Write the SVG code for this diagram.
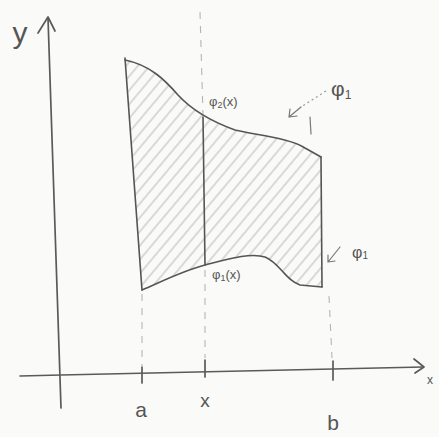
<svg xmlns="http://www.w3.org/2000/svg" width="439" height="437" viewBox="0 0 439 437">
<style>
.ln{fill:none;stroke:#555;stroke-width:1.6;stroke-linecap:round;stroke-linejoin:round}
.ax{fill:none;stroke:#5a5a5a;stroke-width:1.7;stroke-linecap:round;stroke-linejoin:round}
.dash{fill:none;stroke:#b5b5b5;stroke-width:1.1;stroke-dasharray:7 7}
.thin{fill:none;stroke:#777;stroke-width:1.2;stroke-linecap:round}
.dot{fill:none;stroke:#999;stroke-width:1.2;stroke-dasharray:2 3}
text{font-family:"Liberation Sans","DejaVu Sans",sans-serif;fill:#555}
</style>
<defs>
<pattern id="hatch" width="9" height="9" patternUnits="userSpaceOnUse" patternTransform="rotate(40)">
<line x1="4" y1="0" x2="4" y2="9" stroke="#bdbdbd" stroke-width="1.1"/>
</pattern>
</defs>
<rect width="439" height="437" fill="#fafaf8"/>

<g id="guides">
<path class="dash" d="M200,12 L203,115"/>
<path class="dash" d="M205,270 L205,358"/>
<path class="dash" d="M142,294 L142,366"/>
<path class="dash" d="M329,296 L332,358"/>
<path class="thin" d="M310,117 L311,134"/>
</g>

<g id="region">
<path d="M125,60 C150,65 165,80 178,95 C190,108 210,121 235,130 C255,135 290,138 305,148 L321,157 L322,287 L300,285 C285,280 280,263 265,257 C250,252 225,260 205,265 C185,270 165,280 142,290 C136,210 130,130 125,60 Z" fill="url(#hatch)" stroke="none"/>
<path class="ln" d="M125,60 C150,65 165,80 178,95 C190,108 210,121 235,130 C255,135 290,138 305,148 L321,157"/>
<path class="ln" d="M321,157 L322,287"/>
<path class="ln" d="M142,290 C165,280 185,270 205,265 C225,260 250,252 265,257 C280,263 285,280 300,285 L322,287"/>
<path class="ln" d="M125,58 C130,130 136,210 142,290"/>
<path class="ln" d="M203,117 L205,265"/>
</g>

<g id="connectors">
<path class="ax" d="M20,376 L61,375 L423,367"/>
<path class="ax" d="M414,359 L424,367 L415,373"/>
<path class="ax" d="M61,408 L48,18"/>
<path class="ax" d="M38,33 L48,17 L55,31"/>
<path class="ax" d="M142,367 L142,383"/>
<path class="ax" d="M205,360 L205,377"/>
<path class="ax" d="M333,361 L333,380"/>
<path class="dot" d="M326,91 L301,107"/>
<path class="thin" d="M301,107 L289,117 M289,117 L290,109 M289,117 L297,116"/>
<path class="thin" d="M340,247 L328,262 M328,262 L328,255 M328,262 L335,261"/>
</g>

<g id="labels">
<text x="20" y="43" font-size="30" text-anchor="middle">y</text>
<text x="430" y="384" font-size="12" text-anchor="middle">x</text>
<text x="141" y="417" font-size="21" text-anchor="middle">a</text>
<text x="205" y="407" font-size="19" text-anchor="middle">x</text>
<text x="333" y="430" font-size="21" text-anchor="middle">b</text>
<text x="209" y="106" font-size="13">φ<tspan font-size="9" dy="2">2</tspan><tspan dy="-2">(x)</tspan></text>
<text x="212" y="279" font-size="13">φ<tspan font-size="9" dy="2">1</tspan><tspan dy="-2">(x)</tspan></text>
<text x="331" y="96" font-size="21">φ<tspan font-size="12" dy="3">1</tspan></text>
<text x="352" y="258" font-size="16">φ<tspan font-size="10" dy="1">1</tspan></text>
</g>
</svg>
